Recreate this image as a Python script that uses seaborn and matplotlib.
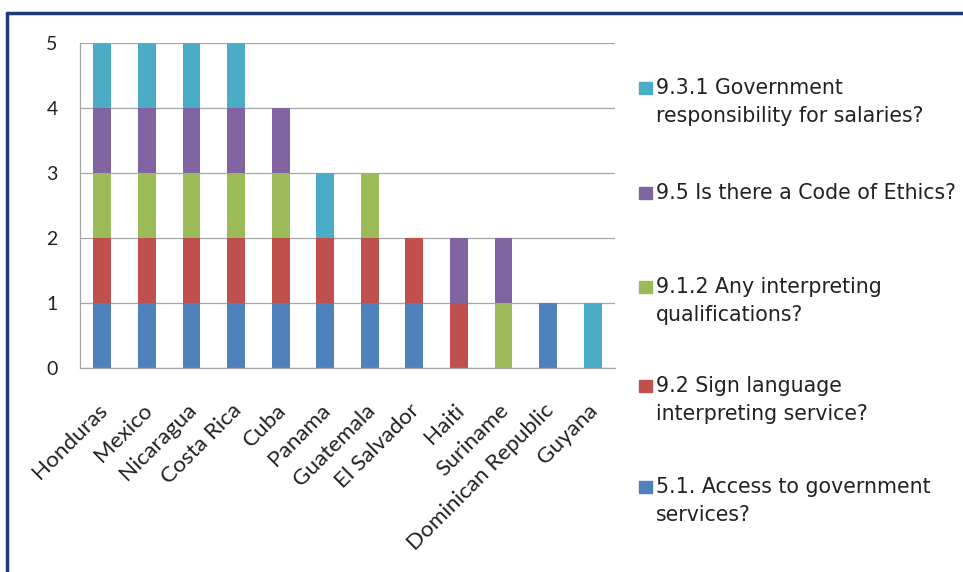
import pandas as pd
import matplotlib.pyplot as plt
from matplotlib.patches import Rectangle
from matplotlib.transforms import ScaledTranslation
import seaborn as sns

countries = ['Honduras', 'Mexico', 'Nicaragua', 'Costa Rica', 'Cuba', 'Panama',
             'Guatemala', 'El Salvador', 'Haiti', 'Suriname',
             'Dominican Republic', 'Guyana']

# questions, top of the stack first (same order as the legend)
questions = ['9.3.1 Government\nresponsibility for salaries?',
             '9.5 Is there a Code of Ethics?',
             '9.1.2 Any interpreting\nqualifications?',
             '9.2 Sign language\ninterpreting service?',
             '5.1. Access to government\nservices?']
colors = ['#4BACC6', '#8064A2', '#9BBB59', '#C0504D', '#4F81BD']

# 1 = yes, 0 = no, per country
gov_salaries = [1, 1, 1, 1, 0, 1, 0, 0, 0, 0, 0, 1]
code_ethics = [1, 1, 1, 1, 1, 0, 0, 0, 1, 1, 0, 0]
qualifications = [1, 1, 1, 1, 1, 0, 1, 0, 0, 1, 0, 0]
sign_service = [1, 1, 1, 1, 1, 1, 1, 1, 1, 0, 0, 0]
gov_access = [1, 1, 1, 1, 1, 1, 1, 1, 0, 0, 1, 0]


def build_frame():
    series = [gov_salaries, code_ethics, qualifications, sign_service, gov_access]
    rows = []
    for q, vals in zip(questions, series):
        for c, v in zip(countries, vals):
            rows.append({'country': c, 'question': q, 'value': v})
    df = pd.DataFrame(rows)
    df['country'] = pd.Categorical(df['country'], categories=countries, ordered=True)
    return df


def main():
    df = build_frame()

    sns.set_style('white')
    plt.rcParams['font.family'] = ['DejaVu Sans']

    W, H = 963, 572
    fig = plt.figure(figsize=(W / 100, H / 100), dpi=100)
    ax = fig.add_axes([80 / W, 1 - 368 / H, 535 / W, 325 / H])

    sns.histplot(data=df, x='country', weights='value', hue='question',
                 hue_order=questions, palette=colors, multiple='stack',
                 discrete=True, shrink=0.4, alpha=1, linewidth=0,
                 legend=False, ax=ax)

    ax.set_xlim(-0.5, len(countries) - 0.5)
    ax.set_ylim(0, 5)
    ax.set_yticks(range(6))
    ax.set_xlabel('')
    ax.set_ylabel('')
    ax.yaxis.grid(True, color='#A6A6A6', linewidth=0.9)
    ax.set_axisbelow(True)
    for s in ['top', 'right']:
        ax.spines[s].set_visible(False)
    for s in ['left', 'bottom']:
        ax.spines[s].set_color('#A6A6A6')
        ax.spines[s].set_linewidth(0.9)

    ax.set_xticks(range(len(countries)))
    ax.set_xticklabels(countries, rotation=45, ha='right', va='top',
                       rotation_mode='anchor', fontsize=16.2, family='Lato',
                       color='#222222')
    ax.tick_params(axis='x', length=0, pad=23)
    shift = ScaledTranslation(-0.05, 0, fig.dpi_scale_trans)
    for lab in ax.get_xticklabels():
        lab.set_transform(lab.get_transform() + shift)
    ax.set_xticks([i - 0.5 for i in range(len(countries) + 1)], minor=True)
    ax.tick_params(axis='x', which='minor', length=4, color='#A6A6A6', width=0.9)
    ax.tick_params(axis='y', length=5, color='#A6A6A6', width=0.9, pad=11,
                   labelsize=14, labelcolor='#222222')
    for lab in ax.get_yticklabels():
        lab.set_family('Lato')

    # legend drawn by hand so the spacing follows the reference
    first_line_y = [90, 195, 289, 388, 489]
    for q, col, y in zip(questions, colors, first_line_y):
        fig.patches.append(Rectangle((639 / W, 1 - (y + 4) / H), 13 / W, 12 / H,
                                     transform=fig.transFigure, color=col))
        fig.text(656 / W, 1 - (y - 12) / H, q, ha='left', va='top',
                 fontsize=14.8, color='#222222', linespacing=1.5)

    # dark frame along the top and left edge
    fig.add_artist(plt.Line2D([7 / W, 1.0], [1 - 13 / H, 1 - 13 / H],
                              transform=fig.transFigure, color='#1F3A7A', linewidth=2.5))
    fig.add_artist(plt.Line2D([7 / W, 7 / W], [0, 1 - 13 / H],
                              transform=fig.transFigure, color='#1F3A7A', linewidth=2.5))

    fig.savefig('out.png', dpi=100, facecolor='white')
    plt.close(fig)


if __name__ == '__main__':
    main()
